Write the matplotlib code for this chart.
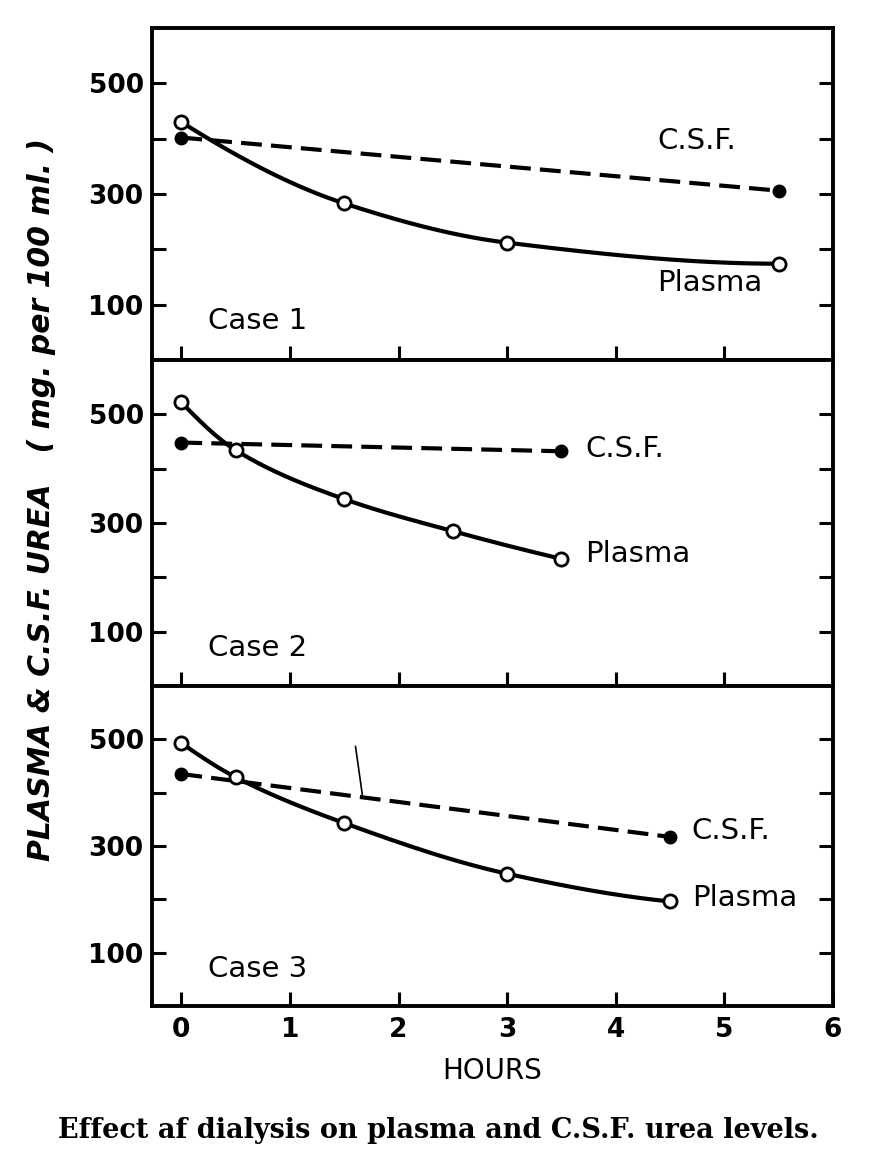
import numpy as np
import matplotlib
matplotlib.use("Agg")
import matplotlib.pyplot as plt
from matplotlib.ticker import FixedLocator

# ---------------- data ----------------
hours_ticks = [0, 1, 2, 3, 4, 5, 6]
y_major = [100, 300, 500]
y_minor = [200, 400]
y_right = [100, 200, 300, 400, 500]

case_names = ["Case 1", "Case 2", "Case 3"]

c1_plasma_t = [0.0, 1.5, 3.0, 5.5]
c1_plasma_v = [430, 283, 212, 174]
c1_csf_t = [0.0, 5.5]
c1_csf_v = [402, 306]

c2_plasma_t = [0.0, 0.5, 1.5, 2.5, 3.5]
c2_plasma_v = [522, 434, 344, 285, 234]
c2_csf_t = [0.0, 3.5]
c2_csf_v = [448, 432]

c3_plasma_t = [0.0, 0.5, 1.5, 3.0, 4.5]
c3_plasma_v = [493, 429, 343, 248, 196]
c3_csf_t = [0.0, 4.5]
c3_csf_v = [435, 317]

cases = [
    (c1_plasma_t, c1_plasma_v, c1_csf_t, c1_csf_v),
    (c2_plasma_t, c2_plasma_v, c2_csf_t, c2_csf_v),
    (c3_plasma_t, c3_plasma_v, c3_csf_t, c3_csf_v),
]


def pchip(x, y, xs):
    """Monotone cubic (Fritsch-Carlson) curve through the data points."""
    x = np.asarray(x, float)
    y = np.asarray(y, float)
    h = np.diff(x)
    d = np.diff(y) / h
    n = len(x)
    m = np.zeros(n)
    for k in range(1, n - 1):
        if d[k - 1] * d[k] > 0:
            w1 = 2 * h[k] + h[k - 1]
            w2 = h[k] + 2 * h[k - 1]
            m[k] = (w1 + w2) / (w1 / d[k - 1] + w2 / d[k])
    m[0] = ((2 * h[0] + h[1]) * d[0] - h[0] * d[1]) / (h[0] + h[1]) if n > 2 else d[0]
    if np.sign(m[0]) != np.sign(d[0]):
        m[0] = 0
    m[-1] = ((2 * h[-1] + h[-2]) * d[-1] - h[-1] * d[-2]) / (h[-1] + h[-2]) if n > 2 else d[-1]
    if np.sign(m[-1]) != np.sign(d[-1]):
        m[-1] = 0
    out = np.empty_like(xs)
    idx = np.clip(np.searchsorted(x, xs) - 1, 0, n - 2)
    for i, xv in enumerate(xs):
        k = idx[i]
        t = (xv - x[k]) / h[k]
        h00 = 2 * t**3 - 3 * t**2 + 1
        h10 = t**3 - 2 * t**2 + t
        h01 = -2 * t**3 + 3 * t**2
        h11 = t**3 - t**2
        out[i] = h00 * y[k] + h10 * h[k] * m[k] + h01 * y[k + 1] + h11 * h[k] * m[k + 1]
    return out


# ---------------- figure ----------------
W, H = 880, 1166
fig = plt.figure(figsize=(W / 100, H / 100), dpi=100)

left_px, right_px = 152, 833
edges_px = [28, 360, 686, 1006]

axes = []
for i in range(3):
    top, bot = edges_px[i], edges_px[i + 1]
    ax = fig.add_axes([left_px / W, 1 - bot / H, (right_px - left_px) / W, (bot - top) / H])
    axes.append(ax)

tick_font = dict(family="DejaVu Sans", size=19, weight="bold")
text_font = dict(family="DejaVu Sans", size=21)

lw_line = 3.0
for i, ax in enumerate(axes):
    pt, pv, ct, cv = cases[i]
    ax.set_xlim(-0.27, 6)
    ax.set_ylim(0, 600)
    for s in ax.spines.values():
        s.set_linewidth(2.8)
    # plasma: smooth solid curve, open circles
    xs = np.linspace(pt[0], pt[-1], 200)
    ax.plot(xs, pchip(pt, pv, xs), color="black", lw=lw_line, solid_capstyle="round", zorder=2)
    ax.plot(pt, pv, linestyle="none", marker="o", ms=9.5, mfc="white", mec="black", mew=2.0, zorder=4)
    # CSF: dashed line, filled dots
    ax.plot(ct, cv, color="black", lw=lw_line, dashes=[5.0, 2.2], zorder=3)
    ax.plot(ct, cv, linestyle="none", marker="o", ms=9, mfc="black", mec="black", zorder=4)

    # ticks
    ax.yaxis.set_major_locator(FixedLocator(y_major))
    ax.yaxis.set_minor_locator(FixedLocator(y_minor))
    ax.set_yticklabels([str(v) for v in y_major], fontdict=tick_font)
    ax.tick_params(axis="y", which="both", direction="in", length=10, width=2.2, left=True, right=False, pad=6)
    ax.xaxis.set_major_locator(FixedLocator(hours_ticks[:-1]))
    ax.tick_params(axis="x", which="both", direction="in", length=10, width=2.2, top=False, bottom=True)
    if i < 2:
        ax.tick_params(axis="x", labelbottom=False)

    axr = ax.twinx()
    axr.set_ylim(ax.get_ylim())
    axr.yaxis.set_major_locator(FixedLocator(y_right))
    axr.tick_params(axis="y", direction="in", length=10, width=2.2, labelright=False)
    for s in axr.spines.values():
        s.set_visible(False)

    ax.text(0.25, 70, case_names[i], ha="left", va="center", **text_font)

# bottom axis labels
axb = axes[2]
axb.xaxis.set_major_locator(FixedLocator(hours_ticks))
axb.set_xticklabels([str(v) for v in hours_ticks], fontdict=tick_font)
axb.tick_params(axis="x", pad=8)
axb.set_xlabel("HOURS", fontdict=dict(family="DejaVu Sans", size=20), labelpad=10)

# series labels
axes[0].text(4.38, 395, "C.S.F.", ha="left", va="center", **text_font)
axes[0].text(4.38, 140, "Plasma", ha="left", va="center", **text_font)
axes[1].text(3.72, 437, "C.S.F.", ha="left", va="center", **text_font)
axes[1].text(3.72, 243, "Plasma", ha="left", va="center", **text_font)
axes[2].text(4.70, 328, "C.S.F.", ha="left", va="center", **text_font)
axes[2].text(4.70, 203, "Plasma", ha="left", va="center", **text_font)

# small stray pointer stroke in case 3
axes[2].annotate("", xy=(1.67, 391), xytext=(1.6, 492),
                 arrowprops=dict(arrowstyle="-", lw=1.2, color="black"))

# y label
fig.text(42 / W, 1 - 500 / H, "PLASMA & C.S.F. UREA   ( mg. per 100 ml. )",
         rotation=90, ha="center", va="center", family="DejaVu Sans",
         style="italic", weight="bold", size=21.5)

# caption
fig.text(438 / W, 1 - 1130 / H, "Effect af dialysis on plasma and C.S.F. urea levels.",
         ha="center", va="center", family="DejaVu Serif", weight="bold", size=19.5)

fig.savefig("out.png", dpi=100, facecolor="white")
